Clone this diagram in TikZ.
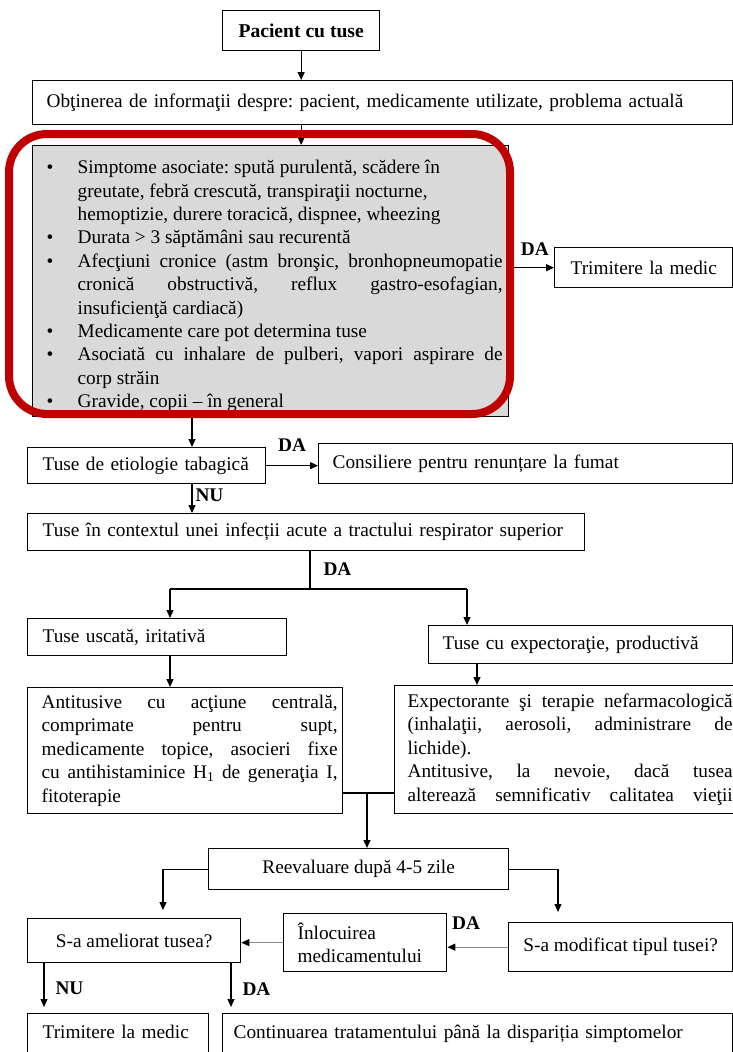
\documentclass[tikz,border=0pt]{standalone}
\usepackage{fontspec}
\setmainfont{Liberation Serif}
\usetikzlibrary{arrows.meta}
\definecolor{boxgray}{HTML}{D9D9D9}
\definecolor{framered}{HTML}{C00000}
\definecolor{linegray}{HTML}{8C8C8C}
\newcommand{\bitem}{\par\noindent\hangindent=31pt\hangafter=1\makebox[31pt][l]{\textbullet}}
\frenchspacing
\hyphenpenalty=10000
\exhyphenpenalty=10000
\tolerance=9999

\begin{document}
\begin{tikzpicture}[x=1pt,y=-1pt,
    every node/.style={font=\fontsize{19.3}{23.4}\selectfont},
    box/.style={draw,line width=1.3pt,anchor=north west,inner sep=0pt,align=left},
    lpad/.style={execute at begin node={\leftskip=#1\relax}},
    jbox/.style={box,align=justify},
    cbox/.style={box,align=center},
    lbl/.style={font=\fontsize{19.3}{23.4}\selectfont\bfseries,inner sep=0pt},
    arr/.style={-{Triangle[length=8pt,width=7pt]},line width=1.1pt},
    garr/.style={arr,draw=linegray,-{Triangle[length=8pt,width=7pt,color=black]}},
    frame/.style={draw=framered,line width=8pt,rounded corners=38pt}
  ]
  \useasboundingbox (0,0) rectangle (733,1052);
  \clip (0,0) rectangle (733,1052);

  \node[cbox,minimum width=157pt,minimum height=40pt,font=\fontsize{19.6}{23.4}\selectfont\bfseries] (pacient) at (222,10) {Pacient cu tuse};
  \node[box,lpad=14pt,text width=700pt,minimum height=44pt] (info) at (32,80) {Obţinerea de informaţii despre: pacient, medicamente utilizate, problema actuală};
  \node[jbox,fill=boxgray,text width=476pt,minimum height=271pt] (simpt) at (32,145) {\leftskip=14pt\rightskip=6pt
    \bitem Simptome asociate: spută purulentă, scădere în\newline greutate, febră crescută, transpiraţii nocturne,\newline hemoptizie, durere toracică, dispnee, wheezing
    \bitem Durata > 3 săptămâni sau recurentă
    \bitem Afecţiuni cronice (astm bronşic, bronhopneumopatie\linebreak cronică obstructivă, reflux gastro-esofagian,\linebreak insuficienţă cardiacă)
    \bitem Medicamente care pot determina tuse
    \bitem Asociată cu inhalare de pulberi, vapori aspirare de\linebreak corp străin
    \bitem Gravide, copii – în general\par};
  \node[box,lpad=16pt,text width=178pt,minimum height=40pt] (trimA) at (554,247) {Trimitere la medic};
  \node[box,lpad=15pt,text width=238pt,minimum height=36pt] (tabac) at (27,447) {Tuse de etiologie tabagică};
  \node[box,lpad=14pt,text width=414pt,minimum height=40pt] (consil) at (318,443) {Consiliere pentru renunțare la fumat};
  \node[box,lpad=15pt,text width=557pt,minimum height=37pt] (ctx) at (27,513) {Tuse în contextul unei infecții acute a tractului respirator superior};
  \node[box,lpad=15pt,text width=259pt,minimum height=37pt] (usc) at (27,618) {Tuse uscată, iritativă};
  \node[box,lpad=14pt,text width=304pt,minimum height=38pt] (exp) at (428,625) {Tuse cu expectoraţie, productivă};
  \node[jbox,text width=315pt,minimum height=126pt] (antit) at (27,687) {\leftskip=14pt\rightskip=5pt
    Antitusive cu acţiune centrală,\linebreak comprimate pentru supt,\linebreak medicamente topice, asocieri fixe\linebreak cu antihistaminice H\textsubscript{1} de generaţia I,\linebreak fitoterapie\par};
  \node[jbox,text width=356pt,minimum height=128pt] (exptr) at (394,685) {\leftskip=13pt\rightskip=18pt
    Expectorante şi terapie nefarmacologică\linebreak (inhalaţii, aerosoli, administrare de\linebreak lichide).\par
    \parfillskip=0pt Antitusive, la nevoie, dacă tusea\linebreak alterează semnificativ calitatea vieţii\par};
  \node[cbox,minimum width=300pt,minimum height=41pt] (reev) at (208,848) {Reevaluare după 4-5 zile};
  \node[cbox,minimum width=213pt,minimum height=44pt] (amel) at (27,918) {S-a ameliorat tusea?};
  \node[box,lpad=14pt,text width=163pt,minimum height=58pt] (inloc) at (283,913) {Înlocuirea\\medicamentului};
  \node[cbox,minimum width=224pt,minimum height=49pt] (modif) at (508,922) {S-a modificat tipul tusei?};
  \node[box,lpad=15pt,inner ysep=11pt,text width=181pt,text height=14pt,text depth=30pt] (trimB) at (27,1013) {Trimitere la medic};
  \node[box,lpad=11pt,inner ysep=11pt,text width=510pt,text height=14pt,text depth=30pt] (contin) at (222,1013) {Continuarea tratamentului până la dispariția simptomelor};

  \coordinate (gx) at (192,0);
  \coordinate (split) at (310,589);
  \coordinate (sl) at (170,589);
  \coordinate (sr) at (467,589);
  \coordinate (ex) at (477,0);
  \coordinate (join) at (367,793);
  \coordinate (rl) at (163,0);
  \coordinate (rr) at (558,0);
  \coordinate (nl) at (44,0);
  \coordinate (dl) at (231,0);

  \draw[arr] (pacient.south) -- (pacient.south |- info.north);
  \draw[arr] (info.south -| pacient) -- (simpt.north -| pacient);
  \draw[arr] (simpt.east |- trimA) -- node[lbl,above=12pt,pos=0.57]{DA} (trimA.west);
  \draw[arr] (simpt.south -| gx) -- (tabac.north -| gx);
  \draw[arr] (tabac.east) -- node[lbl,above=14pt]{DA} (tabac.east -| consil.west);
  \draw[arr] (tabac.south -| gx) -- node[lbl,right=3pt,pos=0.37]{NU} (ctx.north -| gx);
  \draw[line width=1.1pt] (ctx.south -| split) -- node[lbl,right=13pt,pos=0.46]{DA} (split);
  \draw[line width=1.1pt] (sl) -- (sr);
  \draw[arr] (sl) -- (usc.north -| sl);
  \draw[arr] (sr) -- (exp.north -| sr);
  \draw[arr] (usc.south -| sl) -- (antit.north -| sl);
  \draw[arr] (exp.south -| ex) -- (exptr.north -| ex);
  \draw[line width=1.1pt] (antit.east |- join) -- (exptr.west |- join);
  \draw[arr] (join) -- (reev.north -| join);
  \draw[arr,shorten >=8pt] (reev.west) -| (amel.north -| rl);
  \draw[arr,shorten >=10pt] (reev.east) -| (modif.north -| rr);
  \draw[garr] (modif.west) -- node[lbl,above=17pt,pos=0.69]{DA} (modif.west -| inloc.east);
  \draw[garr] (inloc.west) -- (inloc.west -| amel.east);
  \draw[arr,shorten >=6pt] (amel.south -| nl) -- node[lbl,right=11pt,pos=0.51]{NU} (trimB.north -| nl);
  \draw[arr,shorten >=6pt] (amel.south -| dl) -- node[lbl,right=11pt,pos=0.51]{DA} (contin.north -| dl);

  \draw[frame] (9,134) rectangle (510,414);
\end{tikzpicture}
\end{document}
